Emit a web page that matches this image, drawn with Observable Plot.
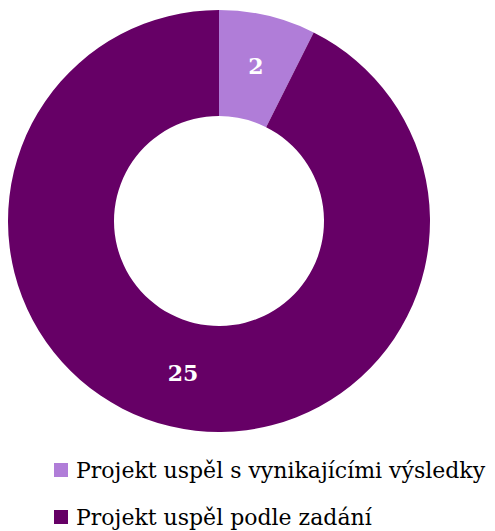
<!DOCTYPE html>
<html>
<head>
<meta charset="utf-8">
<script src="https://cdn.jsdelivr.net/npm/d3@7"></script>
<script src="https://cdn.jsdelivr.net/npm/@observablehq/plot@0.6"></script>
<style>
  body { margin: 0; background: #fff; font-family: "DejaVu Serif", serif; }
  #chart svg { display: block; }
  #legend { margin-left: 54px; margin-top: 15px; font-size: 22px; color: #000; }
  .item { display: flex; align-items: center; height: 20px; margin-bottom: 27px; white-space: nowrap; }
  .sw { width: 14px; height: 14px; margin-right: 8px; flex: none; }
</style>
</head>
<body>
<div id="chart"></div>
<div id="legend"></div>
<script>
const categories = ["Projekt uspěl s vynikajícími výsledky", "Projekt uspěl podle zadání"];
const values = [2, 25];
const colors = ["#B07DD8", "#660066"];

const W = 495, H = 445;
const cx = 219, cy = 221, outerR = 211, innerR = 105;

const data = categories.map((c, i) => ({category: c, value: values[i], color: colors[i]}));
const pie = d3.pie().value(d => d.value).sort(null)(data);
const arc = d3.arc().innerRadius(innerR).outerRadius(outerR);
const labels = pie.map(p => {
  const [x, y] = arc.centroid(p);
  return {x: cx + x, y: cy + y - 1, text: String(p.data.value)};
});

const donut = () => {
  const g = d3.create("svg:g").attr("transform", `translate(${cx},${cy})`);
  g.selectAll("path").data(pie).join("path")
    .attr("d", arc)
    .attr("fill", d => d.data.color);
  return g.node();
};

const chart = Plot.plot({
  width: W, height: H, margin: 0,
  x: {type: "identity", axis: null}, y: {type: "identity", axis: null},
  style: {background: "#fff"},
  marks: [
    donut,
    Plot.text(labels, {x: "x", y: "y", text: "text", fill: "#fff", fontSize: 22, fontWeight: "bold", fontFamily: "DejaVu Serif"})
  ]
});
document.getElementById("chart").appendChild(chart);

const legend = d3.select("#legend");
data.forEach(d => {
  const it = legend.append("div").attr("class", "item");
  it.append("div").attr("class", "sw").style("background", d.color);
  it.append("span").text(d.category);
});
</script>
</body>
</html>
